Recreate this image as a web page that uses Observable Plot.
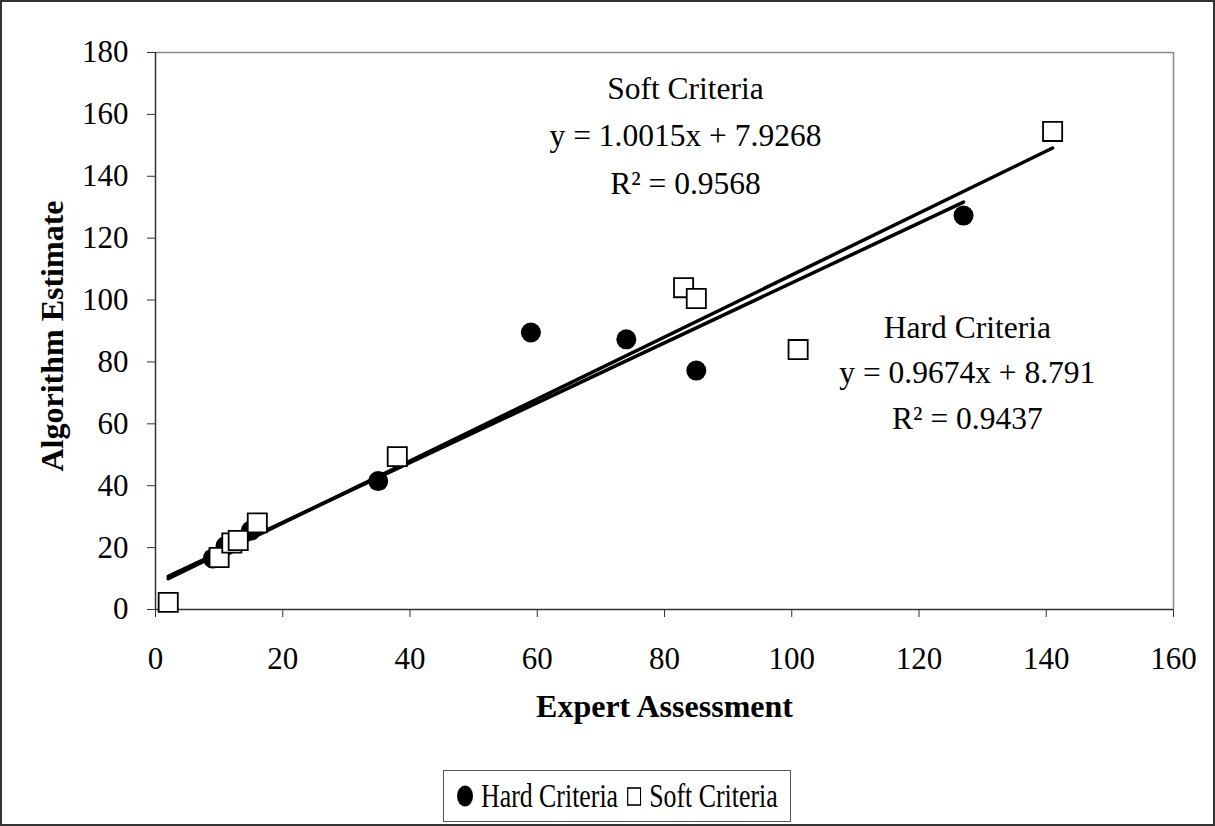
<!DOCTYPE html>
<html><head><meta charset="utf-8">
<script src="https://cdn.jsdelivr.net/npm/d3@7"></script>
<script src="https://cdn.jsdelivr.net/npm/@observablehq/plot@0.6"></script>
<style>
body{margin:0;background:#fff;}
#wrap{position:relative;width:1215px;height:826px;overflow:hidden;font-family:"Liberation Serif","Times New Roman",serif;}
#frame{position:absolute;left:0;top:0;width:1215px;height:826px;box-sizing:border-box;border:2px solid #333;pointer-events:none;}
#legend{position:absolute;left:443px;top:770px;width:348px;height:52px;box-sizing:border-box;border:1.5px solid #555;display:flex;align-items:center;justify-content:center;color:#000;}
#legend .lgc{display:inline-flex;align-items:center;gap:10px;font-size:34px;white-space:nowrap;transform:scaleX(0.76);transform-origin:center;line-height:1;}
#legend svg{display:block}
</style></head><body>
<div id="wrap"><div id="chart"></div>
<div id="legend"></div>
<div id="frame"></div></div>
<script>
const hardX = [9, 11, 15, 35, 59, 74, 85, 127];
const hardY = [16.5, 20.5, 25.5, 41.5, 89.5, 87.3, 77.2, 127.3];
const softX = [2, 10, 12, 13, 16, 38, 83, 85, 101, 141];
const softY = [2.3, 16.8, 21.5, 22.3, 28, 49.4, 104, 100.5, 84, 154.5];
const hardFit = {slope: 0.9674, intercept: 8.791, x0: 2, x1: 127};
const softFit = {slope: 1.0015, intercept: 7.9268, x0: 2, x1: 141};
const xTicks = [0, 20, 40, 60, 80, 100, 120, 140, 160];
const yTicks = [0, 20, 40, 60, 80, 100, 120, 140, 160, 180];
const softLabels = ["Soft Criteria", "y = 1.0015x + 7.9268", "R² = 0.9568"];
const softLabelPos = {x: 83.3, y: [168.1, 152.9, 137.4]};
const hardLabels = ["Hard Criteria", "y = 0.9674x + 8.791", "R² = 0.9437"];
const hardLabelPos = {x: 127.6, y: [91.1, 76.6, 61.7]};
const seriesNames = ["Hard Criteria", "Soft Criteria"];

const hard = hardX.map((x, i) => ({x, y: hardY[i]}));
const soft = softX.map((x, i) => ({x, y: softY[i]}));
const fitLine = f => [f.x0, f.x1].map(x => ({x, y: f.slope * x + f.intercept}));
const sl = softLabels.map((t, i) => ({t, x: softLabelPos.x, y: softLabelPos.y[i]}));
const hl = hardLabels.map((t, i) => ({t, x: hardLabelPos.x, y: hardLabelPos.y[i]}));
const font = "Liberation Serif";

const chart = Plot.plot({
  width: 1215, height: 760,
  marginLeft: 155, marginRight: 42, marginTop: 52, marginBottom: 151,
  style: {fontFamily: font, fontSize: "31px", color: "#000", background: "transparent", overflow: "visible"},
  x: {domain: [0, 160]},
  y: {domain: [0, 180]},
  marks: [
    Plot.ruleY([180], {stroke: "#888", strokeWidth: 1.5}),
    Plot.ruleX([160], {stroke: "#888", strokeWidth: 1.5}),
    Plot.axisX({ticks: xTicks, tickSize: 8, tickPadding: 29, fontSize: 31, fontFamily: font, stroke: "#333", label: null, tickFormat: d => d}),
    Plot.axisY({ticks: yTicks, tickSize: 8, tickPadding: 19, fontSize: 31, fontFamily: font, stroke: "#333", label: null, tickFormat: d => d}),
    Plot.ruleX([0], {stroke: "#333", strokeWidth: 1.5}),
    Plot.ruleY([0], {stroke: "#333", strokeWidth: 1.5}),
    Plot.text(["Expert Assessment"], {frameAnchor: "bottom", dy: 107, fontSize: 32, fontWeight: "bold", fontFamily: font, fill: "#000"}),
    Plot.text(["Algorithm Estimate"], {frameAnchor: "left", textAnchor: "middle", dx: -103, dy: 5, rotate: -90, fontSize: 32, fontWeight: "bold", fontFamily: font, fill: "#000"}),
    Plot.line(fitLine(hardFit), {x: "x", y: "y", stroke: "#000", strokeWidth: 3.5}),
    Plot.line(fitLine(softFit), {x: "x", y: "y", stroke: "#000", strokeWidth: 3.5}),
    Plot.dot(hard, {x: "x", y: "y", r: 10, fill: "#000", stroke: "none"}),
    Plot.dot(soft, {x: "x", y: "y", r: 10.8, symbol: "square", fill: "#fff", stroke: "#000", strokeWidth: 1.8}),
    Plot.text(sl, {x: "x", y: "y", text: "t", fontSize: 31.5, fontFamily: font, fill: "#000"}),
    Plot.text(hl, {x: "x", y: "y", text: "t", fontSize: 31.5, fontFamily: font, fill: "#000"})
  ]
});
document.getElementById("chart").appendChild(chart);

const lg = document.getElementById("legend");
lg.innerHTML = `<span class="lgc"><svg width="22" height="22"><circle cx="11" cy="11" r="10.5" fill="#000"/></svg><span>${seriesNames[0]}</span><svg width="19" height="19" style="margin-left:2px"><rect x="1" y="1" width="17" height="17" fill="#fff" stroke="#000" stroke-width="1.6"/></svg><span>${seriesNames[1]}</span></span>`;
</script></body></html>
